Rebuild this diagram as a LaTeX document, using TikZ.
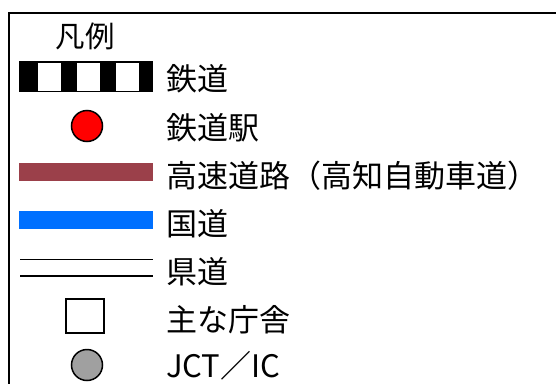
\documentclass[tikz,border=0pt]{standalone}
\usepackage{fontspec}
\newfontfamily\jpfont{Noto Sans CJK JP}
\usepackage{xcolor}
\usetikzlibrary{positioning}
\definecolor{expressway}{RGB}{155,64,74}
\definecolor{nationalroad}{RGB}{0,112,255}
\definecolor{icgray}{RGB}{160,160,160}
\tikzset{
    % 凡例の文字
    legendtext/.style={
        anchor=west,
        inner sep=0pt,
        font=\jpfont\fontsize{31}{33}\selectfont
    },
    % 帯状の記号
    bandsym/.style={
        rectangle,
        draw=none,
        inner sep=0pt,
        minimum width=134pt
    },
    % 丸い記号
    dotsym/.style={
        circle,
        draw=black,
        line width=1.5pt,
        inner sep=0pt,
        minimum size=31pt
    }
}
\begin{document}
\begin{tikzpicture}[x=1pt, y=-1pt]
    \useasboundingbox (0,0) rectangle (556,383);
    % Frame
    \draw[line width=1.6pt] (8.8,600) -- (8.8,12.8) -- (600,12.8);

    % Title
    \node[legendtext, anchor=center, font=\jpfont\fontsize{29.5}{31}\selectfont] (title) at (85,36.5) {凡例};

    % Symbols
    \node[bandsym, fill=black, minimum height=31pt] (rail) at (86,76.5) {};
    \foreach \xs in {38,77,116}
        \fill[white] (\xs,63) rectangle ++(23,28);
    \node[dotsym, fill=red] (station) at (87,126) {};
    \node[bandsym, fill=expressway, minimum height=18pt] (expwy) at (86,172) {};
    \node[bandsym, fill=nationalroad, minimum height=18pt] (natrd) at (86,220) {};
    \coordinate (prefA) at (20,259.5);
    \coordinate (prefB) at (20,276);
    \draw[line width=1.3pt] (prefA) -- ++(133,0);
    \draw[line width=1.3pt] (prefB) -- ++(133,0);
    \node[rectangle, draw=black, line width=2pt, minimum width=38pt, minimum height=34pt] (office) at (85,316) {};
    \node[dotsym, fill=icgray] (jctic) at (87,365) {};

    % Labels
    \node[legendtext] (lrail) at (166,78.5) {鉄道};
    \node[legendtext] (lstation) at (166,127.5) {鉄道駅};
    \node[legendtext] (lexpwy) at (166,176) {高速道路（高知自動車道）};
    \node[legendtext] (lnatrd) at (166,224) {国道};
    \node[legendtext] (lpref) at (166,272) {県道};
    \node[legendtext] (loffice) at (166,320) {主な庁舎};
    \node[legendtext] (ljctic) at (166,366) {JCT／IC};

\end{tikzpicture}
\end{document}
